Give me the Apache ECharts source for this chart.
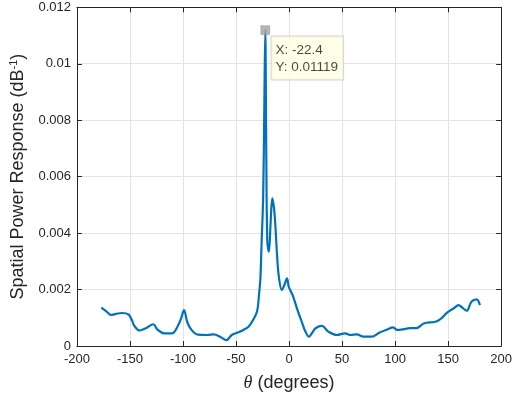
<!DOCTYPE html>
<html>
<head>
<meta charset="utf-8">
<script src="https://cdn.jsdelivr.net/npm/echarts@6/dist/echarts.min.js"></script>
<style>html,body{margin:0;padding:0;background:#fff;}#c{width:515px;height:401px;}</style>
</head>
<body>
<div id="c"></div>
<script>
const theta = [-177,-172,-168,-163,-157.6,-151.4,-148,-146,-141,-135,-128,-124,-118,-110,-105,-102,-99,-96,-92,-86,-77,-71,-65,-59,-54,-49,-43,-38,-33,-30,-28.2,-27,-26,-24.4,-23.3,-22.4,-21.5,-20.5,-19,-17.4,-15.8,-13.7,-11.2,-9.6,-6.8,-4.4,-1.9,-0.3,3.4,8,12.5,15,18.8,22,25,31,37,45,53,58,64,70,78,85,93,98,102,109,114,120,127,138,143,149,155,160,163,167.5,172,176.8,180];
const power = [0.00136,0.00122,0.00110,0.00114,0.00117,0.00112,0.00090,0.00072,0.00055,0.00063,0.00077,0.00058,0.00045,0.00045,0.00070,0.00095,0.00127,0.00085,0.00057,0.00040,0.00039,0.00041,0.00033,0.00021,0.00039,0.00047,0.00057,0.00069,0.00098,0.00125,0.00187,0.00240,0.00352,0.00529,0.0085,0.01119,0.0070,0.0037,0.00334,0.00435,0.00523,0.0047,0.00316,0.00245,0.00198,0.00216,0.0024,0.0021,0.0018,0.00127,0.0008,0.00055,0.00033,0.00048,0.00063,0.00071,0.00051,0.00039,0.00045,0.00039,0.00041,0.00033,0.00033,0.00047,0.00059,0.00066,0.00057,0.00060,0.00063,0.00063,0.00080,0.00086,0.00096,0.00118,0.00133,0.00145,0.00137,0.00125,0.00157,0.00165,0.00145];
const peakX = [-22.4];
const peakY = [0.01119];
const xTicks = [-200,-150,-100,-50,0,50,100,150,200];
const yTicks = ['0','0.002','0.004','0.006','0.008','0.01','0.012'];

const axisColor = '#262626';
const gridColor = '#e3e3e3';
const chart = echarts.init(document.getElementById('c'), null, {renderer: 'canvas'});
const lineData = theta.map((t, i) => [t, power[i]]);
const peakData = peakX.map((t, i) => [t, peakY[i]]);

chart.setOption({
  animation: false,
  textStyle: {fontFamily: 'Liberation Sans, Arial, sans-serif'},
  grid: {left: 72.7, right: 11.7, top: 7.3, bottom: 55, containLabel: false},
  xAxis: [{
    type: 'value', min: -200, max: 200, interval: 50, position: 'bottom',
    axisLine: {onZero: false, lineStyle: {color: axisColor, width: 1}},
    axisTick: {inside: true, length: 5, lineStyle: {color: axisColor}},
    axisLabel: {color: axisColor, fontSize: 13, margin: 7, formatter: v => String(v)},
    splitLine: {show: true, lineStyle: {color: gridColor, width: 1}},
    name: '{i|θ} (degrees)', nameLocation: 'middle', nameGap: 28,
    nameTextStyle: {color: axisColor, fontSize: 18, rich: {i: {fontStyle: 'italic', fontSize: 18, color: axisColor, fontFamily: 'Liberation Serif, serif'}}}
  }, {
    type: 'value', min: -200, max: 200, interval: 50, position: 'top',
    axisLine: {show: true, onZero: false, lineStyle: {color: axisColor, width: 1}},
    axisTick: {show: true, inside: true, length: 5, lineStyle: {color: axisColor}},
    axisLabel: {show: false}, splitLine: {show: false}
  }],
  yAxis: [{
    type: 'value', min: 0, max: 0.012, interval: 0.002, position: 'left',
    axisLine: {show: true, onZero: false, lineStyle: {color: axisColor, width: 1}},
    axisTick: {show: true, inside: true, length: 5, lineStyle: {color: axisColor}},
    axisLabel: {color: axisColor, fontSize: 13, margin: 6, formatter: (v) => yTicks[Math.round(v / 0.002)]},
    splitLine: {show: true, lineStyle: {color: gridColor, width: 1}},
    name: 'Spatial Power Response (dB{s|-1})', nameLocation: 'middle', nameGap: 44,
    nameTextStyle: {color: axisColor, fontSize: 18, rich: {s: {fontSize: 11, color: axisColor, verticalAlign: 'bottom', padding: [0, 0, 10, 0]}}}
  }, {
    type: 'value', min: 0, max: 0.012, interval: 0.002, position: 'right',
    axisLine: {show: true, onZero: false, lineStyle: {color: axisColor, width: 1}},
    axisTick: {show: true, inside: true, length: 5, lineStyle: {color: axisColor}},
    axisLabel: {show: false}, splitLine: {show: false}
  }],
  series: [{
    type: 'line', data: lineData, xAxisIndex: 0, yAxisIndex: 0,
    smooth: 0.35, showSymbol: false, symbol: 'none',
    lineStyle: {color: '#0072BD', width: 2.2}, z: 3
  }, {
    type: 'scatter', data: peakData, xAxisIndex: 0, yAxisIndex: 0,
    symbol: 'rect', symbolSize: 9,
    itemStyle: {color: '#a3a3a3', borderColor: '#8c8c8c', borderWidth: 0.5},
    z: 5,
    label: {
      show: true, position: [11, 11],
      formatter: p => 'X: ' + p.value[0] + '\nY: ' + p.value[1],
      backgroundColor: '#ffffe1', borderColor: '#c8c8c8', borderWidth: 1,
      padding: [5, 5, 4, 4], color: '#1a1a1a', fontSize: 13.5, lineHeight: 17,
      align: 'left'
    }
  }]
});
</script>
</body>
</html>
